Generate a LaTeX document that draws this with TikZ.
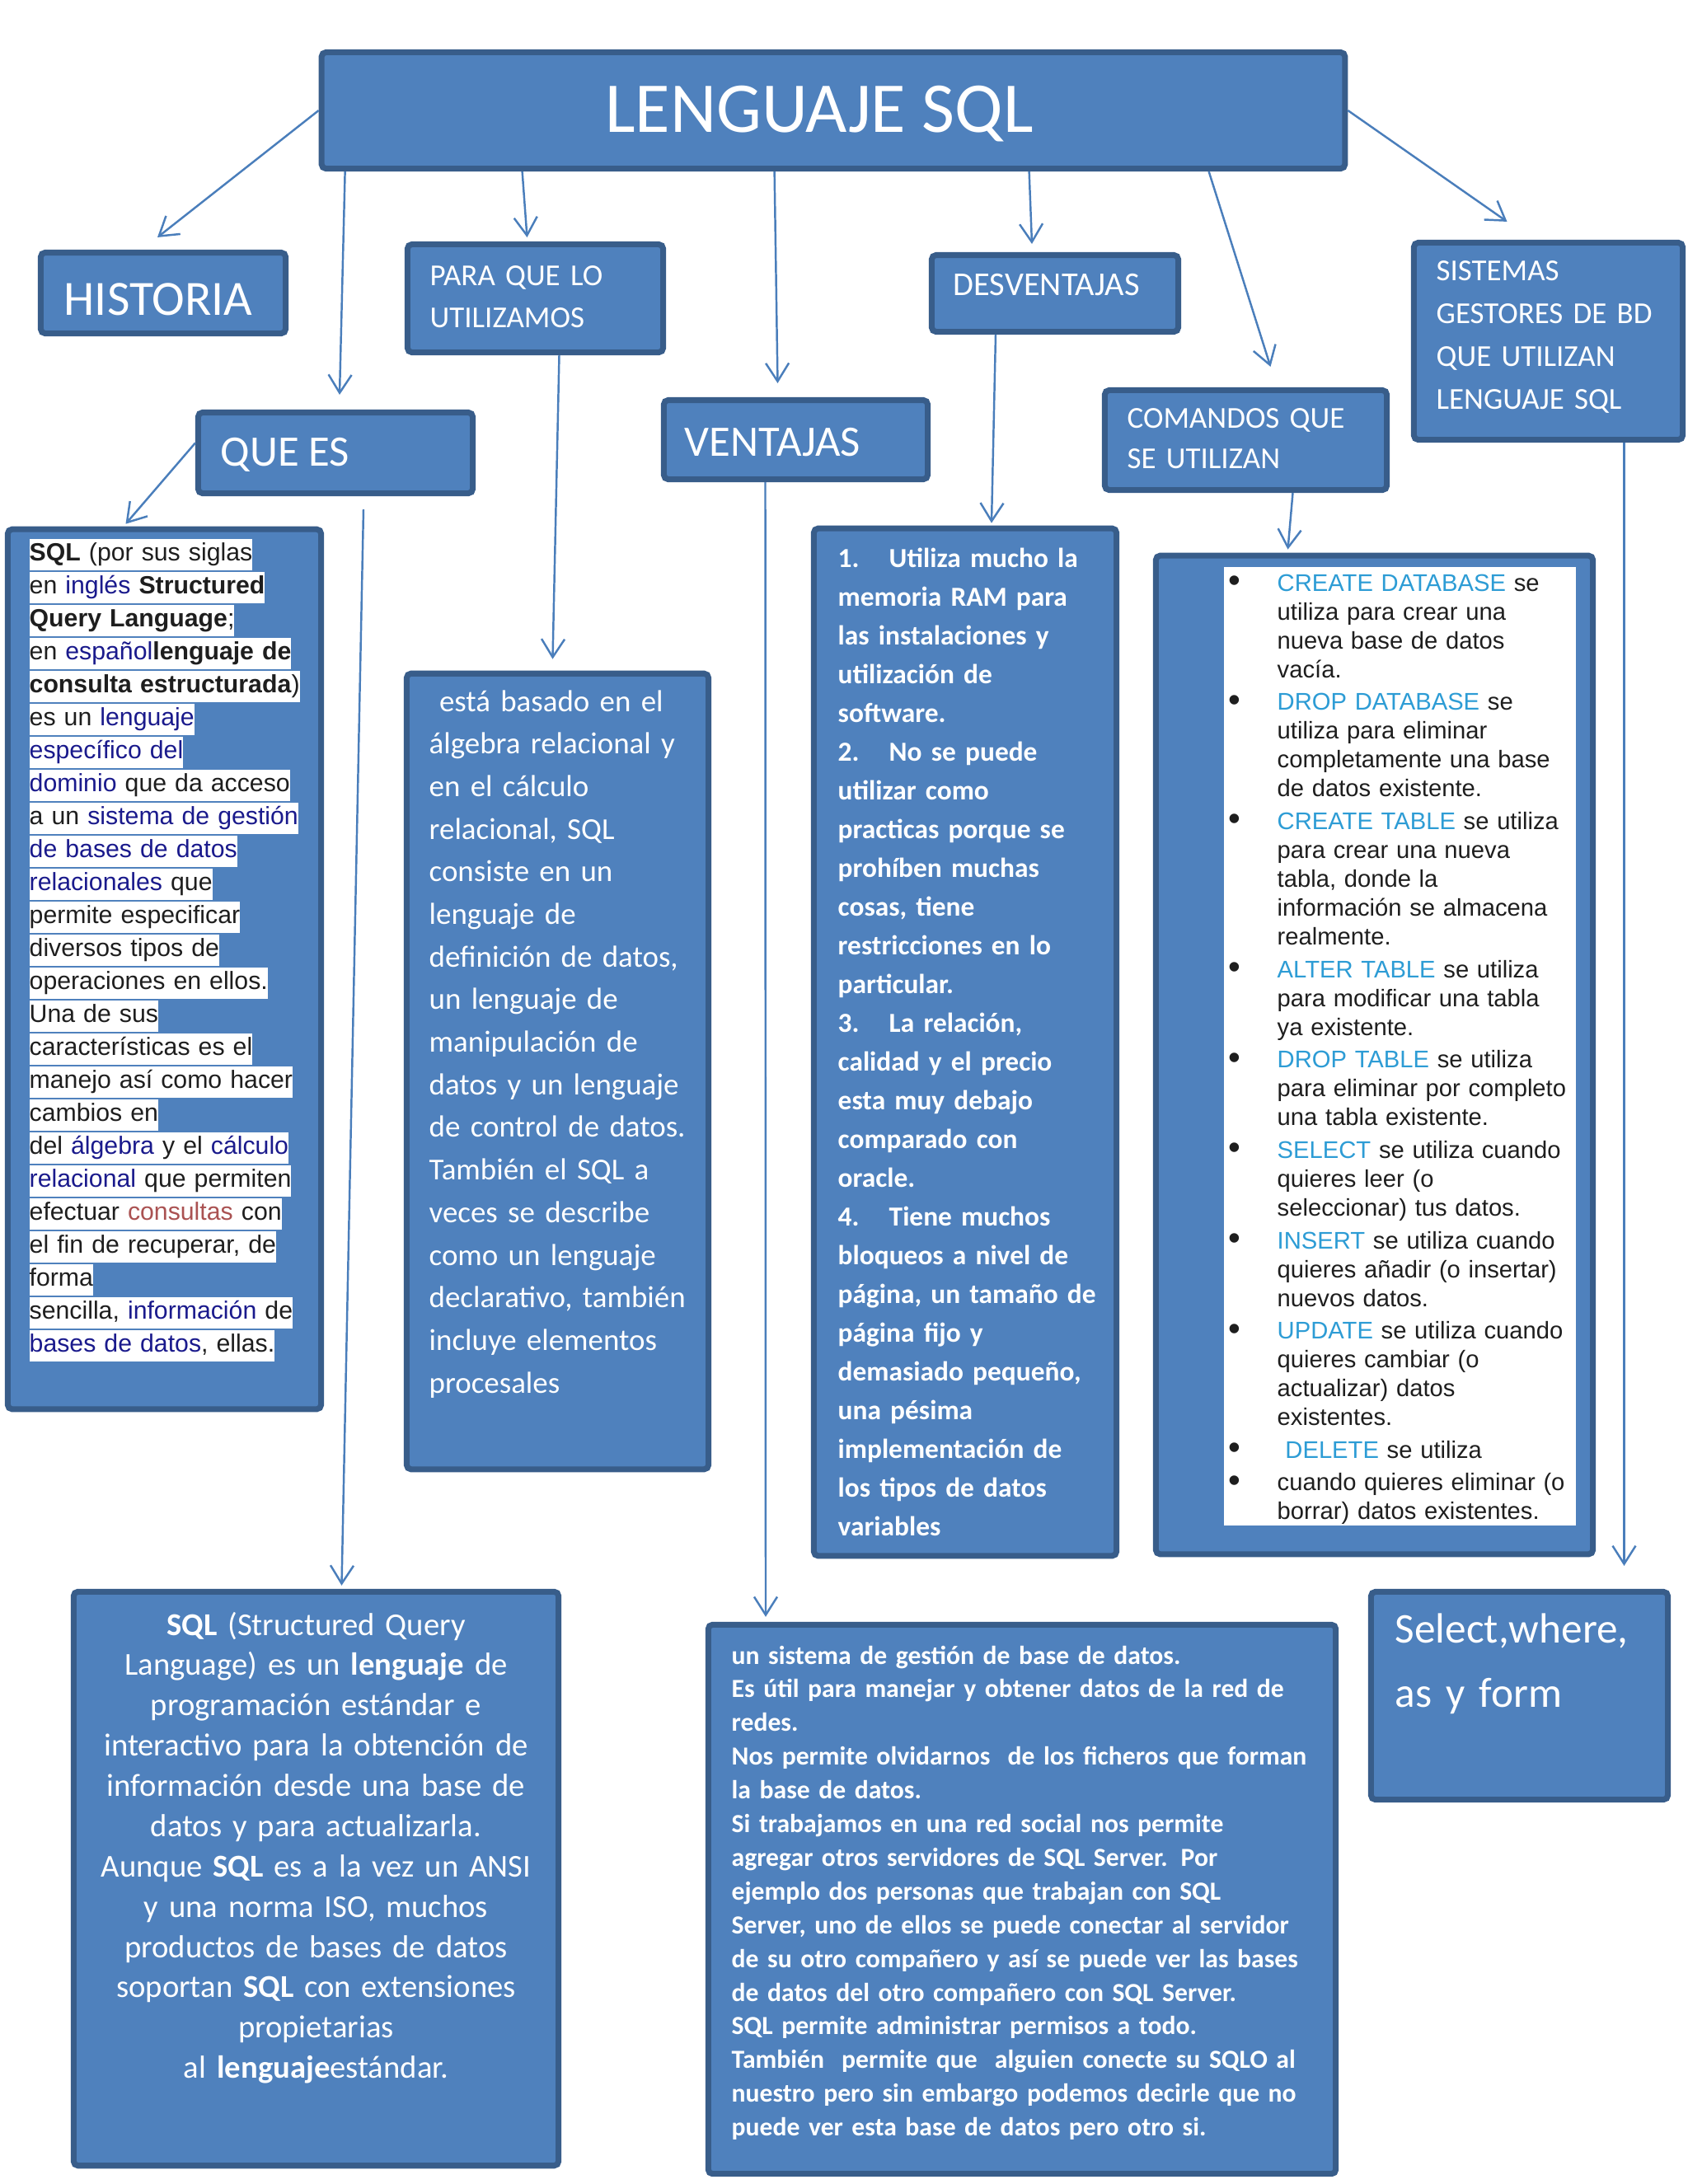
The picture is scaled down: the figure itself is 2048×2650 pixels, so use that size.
\documentclass[tikz,border=0pt]{standalone}
\usepackage{fontspec}
\setmainfont{Carlito}
\newfontfamily\arial{Liberation Sans}
\usetikzlibrary{arrows.meta}

\definecolor{rellenoAzul}{RGB}{79,129,189}
\definecolor{bordeAzul}{RGB}{56,93,138}
\definecolor{lineaAzul}{RGB}{74,126,187}
\definecolor{azulEnlace}{RGB}{26,26,140}
\definecolor{rojoEnlace}{RGB}{170,82,82}
\definecolor{azulClave}{RGB}{45,156,213}
\definecolor{textoGris}{RGB}{30,30,30}

\setlength{\fboxsep}{0pt}
\newcommand{\resalta}[1]{\colorbox{white}{\rule[-3.4pt]{0pt}{10.8pt}#1}}
\newcommand{\enl}[1]{\textcolor{azulEnlace}{#1}}
\newcommand{\clave}[1]{\textcolor{azulClave}{#1}}
\newcommand{\punto}{\makebox[0.59cm][l]{\raisebox{-0.4pt}{\fontsize{12}{9.96}\selectfont\textbullet}}}
\newcommand{\sangria}{\hspace*{0.59cm}}
\newcommand{\num}[1]{\makebox[0.62cm][l]{#1}}

\tikzset{
  caja/.style={draw=bordeAzul, fill=rellenoAzul, line width=2pt, rounded corners=1.5pt, inner sep=0pt},
  flecha/.style={lineaAzul, line width=0.7pt, -{Straight Barb[length=2.2mm, width=2.8mm]}},
  texto/.style={inner sep=0pt, anchor=base west, align=left, text=white},
}

\begin{document}
\begin{tikzpicture}[x=0.01cm, y=-0.01cm]
  \useasboundingbox[fill=white] (0,0) rectangle (2048,2650);

  % Cajas de titulos
  \node[caja, minimum width=12.41cm, minimum height=1.41cm] (titulo) at (1011,134) {};
  \node[caja, minimum width=2.97cm, minimum height=0.98cm] (historia) at (198,355.5) {};
  \node[caja, minimum width=3.10cm, minimum height=1.31cm] (para) at (649.5,362) {};
  \node[caja, minimum width=3.33cm, minimum height=0.98cm] (queEs) at (407,549.5) {};
  \node[caja, minimum width=3.20cm, minimum height=0.96cm] (ventajas) at (965.5,533.5) {};
  \node[caja, minimum width=2.99cm, minimum height=0.93cm] (desv) at (1280,356) {};
  \node[caja, minimum width=3.42cm, minimum height=1.21cm] (comandos) at (1511.5,534) {};
  \node[caja, minimum width=3.26cm, minimum height=2.39cm] (sistemas) at (1878.5,414) {};

  % Cajas de contenido
  \node[caja, minimum width=3.80cm, minimum height=10.67cm] (siglas) at (199.5,1176) {};
  \node[caja, minimum width=3.66cm, minimum height=9.65cm] (basado) at (676.5,1300) {};
  \node[caja, minimum width=3.67cm, minimum height=12.46cm] (desvLista) at (1171,1264.5) {};
  \node[caja, minimum width=5.30cm, minimum height=12.11cm] (comandosLista) at (1667.5,1280) {};
  \fill[white] (1485,688) rectangle (1912,1851);
  \node[caja, minimum width=5.88cm, minimum height=6.96cm] (sqlDef) at (383.5,2279.5) {};
  \node[caja, minimum width=7.61cm, minimum height=6.66cm] (sistema) at (1240,2304.5) {};
  \node[caja, minimum width=3.60cm, minimum height=2.52cm] (select) at (1843.5,2057.5) {};

  % Titulos
  \node[texto, font=\fontsize{24.7}{30}\selectfont, anchor=base] (tTitulo) at (994,160) {LENGUAJE SQL};
  \node[texto, font=\fontsize{17}{20}\selectfont] (tHistoria) at (77,382) {HISTORIA};
  \node[texto, font=\fontsize{10.5}{14.5}\selectfont, text width=2.8cm] (tPara) at (521,346) {PARA QUE LO\\UTILIZAMOS};
  \node[texto, font=\fontsize{15}{18}\selectfont] (tQueEs) at (267,565) {QUE ES};
  \node[texto, font=\fontsize{15}{18}\selectfont] (tVentajas) at (830,553) {VENTAJAS};
  \node[texto, font=\fontsize{11.5}{14}\selectfont] (tDesv) at (1156,358) {DESVENTAJAS};
  \node[texto, font=\fontsize{10.5}{14.2}\selectfont, text width=3cm] (tComandos) at (1367,519) {COMANDOS QUE\\SE UTILIZAN};
  \node[texto, font=\fontsize{10.5}{14.8}\selectfont, text width=3cm] (tSistemas) at (1742,340) {SISTEMAS\\GESTORES DE BD\\QUE UTILIZAN\\LENGUAJE SQL};

  % Que es
  \node[texto, text=textoGris, font=\arial\fontsize{8.6}{11.38}\selectfont, text width=3.6cm] (tSiglas) at (35,680) {%
    \resalta{\textbf{SQL} (por sus siglas}\\
    \resalta{en \enl{inglés} \textbf{Structured}}\\
    \resalta{\textbf{Query Language};}\\
    \resalta{en \enl{español}\textbf{lenguaje de}}\\
    \resalta{\textbf{consulta estructurada})}\\
    \resalta{es un \enl{lenguaje}}\\
    \resalta{\enl{específico del}}\\
    \resalta{\enl{dominio} que da acceso}\\
    \resalta{a un \enl{sistema de gestión}}\\
    \resalta{\enl{de bases de datos}}\\
    \resalta{\enl{relacionales} que}\\
    \resalta{permite especificar}\\
    \resalta{diversos tipos de}\\
    \resalta{operaciones en ellos.}\\
    \resalta{Una de sus}\\
    \resalta{características es el}\\
    \resalta{manejo así como hacer}\\
    \resalta{cambios en}\\
    \resalta{del \enl{álgebra} y el \enl{cálculo}}\\
    \resalta{\enl{relacional} que permiten}\\
    \resalta{efectuar \textcolor{rojoEnlace}{consultas} con}\\
    \resalta{el fin de recuperar, de}\\
    \resalta{forma}\\
    \resalta{sencilla, \enl{información} de}\\
    \resalta{\enl{bases de datos}, ellas.}};

  % Para que lo utilizamos
  \node[texto, font=\fontsize{10.5}{14.7}\selectfont, text width=3.4cm] (tBasado) at (520,863) {%
    \ está basado en el\\ álgebra relacional y\\ en el cálculo\\ relacional, SQL\\
    consiste en un\\ lenguaje de\\ definición de datos,\\ un lenguaje de\\
    manipulación de\\ datos y un lenguaje\\ de control de datos.\\ También el SQL a\\
    veces se describe\\ como un lenguaje\\ declarativo, también\\ incluye elementos\\ procesales};

  % Desventajas
  \node[texto, font=\bfseries\fontsize{9.5}{13.37}\selectfont, text width=3.4cm] (tDesvLista) at (1016,688) {%
    \num{1.}Utiliza mucho la\\ memoria RAM para\\ las instalaciones y\\ utilización de\\ software.\\
    \num{2.}No se puede\\ utilizar como\\ practicas porque se\\ prohíben muchas\\ cosas, tiene\\
    restricciones en lo\\ particular.\\
    \num{3.}La relación,\\ calidad y el precio\\ esta muy debajo\\ comparado con\\ oracle.\\
    \num{4.}Tiene muchos\\ bloqueos a nivel de\\ página, un tamaño de\\ página fijo y\\
    demasiado pequeño,\\ una pésima\\ implementación de\\ los tipos de datos\\ variables};

  % Comandos
  \node[texto, text=textoGris, font=\arial\fontsize{8.3}{9.96}\selectfont, text width=4.3cm] (tComandosLista) at (1490,717) {%
    \punto\clave{CREATE DATABASE} se\\ \sangria utiliza para crear una\\ \sangria nueva base de datos\\ \sangria vacía.\\[1.3pt]
    \punto\clave{DROP DATABASE} se\\ \sangria utiliza para eliminar\\ \sangria completamente una base\\ \sangria de datos existente.\\[1.3pt]
    \punto\clave{CREATE TABLE} se utiliza\\ \sangria para crear una nueva\\ \sangria tabla, donde la\\ \sangria información se almacena\\ \sangria realmente.\\[1.3pt]
    \punto\clave{ALTER TABLE} se utiliza\\ \sangria para modificar una tabla\\ \sangria ya existente.\\[1.3pt]
    \punto\clave{DROP TABLE} se utiliza\\ \sangria para eliminar por completo\\ \sangria una tabla existente.\\[1.3pt]
    \punto\clave{SELECT} se utiliza cuando\\ \sangria quieres leer (o\\ \sangria seleccionar) tus datos.\\[1.3pt]
    \punto\clave{INSERT} se utiliza cuando\\ \sangria quieres añadir (o insertar)\\ \sangria nuevos datos.\\[1.3pt]
    \punto\clave{UPDATE} se utiliza cuando\\ \sangria quieres cambiar (o\\ \sangria actualizar) datos\\ \sangria existentes.\\[1.3pt]
    \punto\ \clave{DELETE} se utiliza\\[1.3pt]
    \punto cuando quieres eliminar (o\\ \sangria borrar) datos existentes.};

  % Definicion
  \node[texto, anchor=base, align=center, font=\fontsize{11}{13.9}\selectfont, text width=5.8cm] (tSqlDef) at (383.5,1984) {%
    \textbf{SQL} (Structured Query\\ Language) es un \textbf{lenguaje} de\\ programación estándar e\\
    interactivo para la obtención de\\ información desde una base de\\ datos y para actualizarla.\\
    Aunque \textbf{SQL} es a la vez un ANSI\\ y una norma ISO, muchos\\ productos de bases de datos\\
    soportan \textbf{SQL} con extensiones\\ propietarias\\ al \textbf{lenguaje}estándar.};

  % Ventajas
  \node[texto, font=\bfseries\fontsize{9}{11.63}\selectfont, text width=7.4cm] (tSistema) at (887,2019) {%
    un sistema de gestión de base de datos.\\
    Es útil para manejar y obtener datos de la red de\\ redes.\\
    Nos permite olvidarnos \ de los ficheros que forman\\ la base de datos.\\
    Si trabajamos en una red social nos permite\\ agregar otros servidores de SQL Server. Por\\
    ejemplo dos personas que trabajan con SQL\\ Server, uno de ellos se puede conectar al servidor\\
    de su otro compañero y así se puede ver las bases\\ de datos del otro compañero con SQL Server.\\
    SQL permite administrar permisos a todo.\\ También \ permite que \ alguien conecte su SQLO al\\
    nuestro pero sin embargo podemos decirle que no\\ puede ver esta base de datos pero otro si.};

  % Sistemas gestores
  \node[texto, font=\fontsize{14.6}{22.2}\selectfont, text width=3.3cm] (tSelect) at (1692,1993) {Select,where,\\as y form};

  % Flechas
  \draw[flecha] (titulo.west) -- ([shift={(-7,-15)}]historia.north);
  \draw[flecha] ([shift={(32,0)}]titulo.south west) -- ([shift={(5,-18)}]queEs.north);
  \draw[flecha] ([shift={(247,0)}]titulo.south west) -- ([shift={(-10,-5)}]para.north);
  \draw[flecha] ([shift={(553,0)}]titulo.south west) -- ([shift={(-22,-17)}]ventajas.north);
  \draw[flecha] ([shift={(862,0)}]titulo.south west) -- ([shift={(-28,-10)}]desv.north);
  \draw[flecha] ([shift={(1080,0)}]titulo.south west) -- ([shift={(30,-25)}]comandos.north);
  \draw[flecha] (titulo.east) -- ([shift={(-50,-22)}]sistemas.north);
  \draw[flecha] ([shift={(0,-12)}]queEs.west) -- ([shift={(-47,-3)}]siglas.north);
  \coordinate (inicio) at (441,618);
  \draw[flecha] (inicio) -- ([shift={(31,-4)}]sqlDef.north);
  \draw[flecha] ([shift={(29,0)}]para.south) -- ([shift={(-6,-14)}]basado.north);
  \draw[flecha] ([shift={(-37,0)}]ventajas.south) -- ([shift={(-311,-6)}]sistema.north);
  \draw[flecha] ([shift={(-72,0)}]desv.south) -- ([shift={(32,-3)}]desvLista.north);
  \draw[flecha] ([shift={(57,0)}]comandos.south) -- ([shift={(-105,-4)}]comandosLista.north);
  \draw[flecha] ([shift={(92,0)}]sistemas.south) -- ([shift={(127,-28)}]select.north);
\end{tikzpicture}
\end{document}
